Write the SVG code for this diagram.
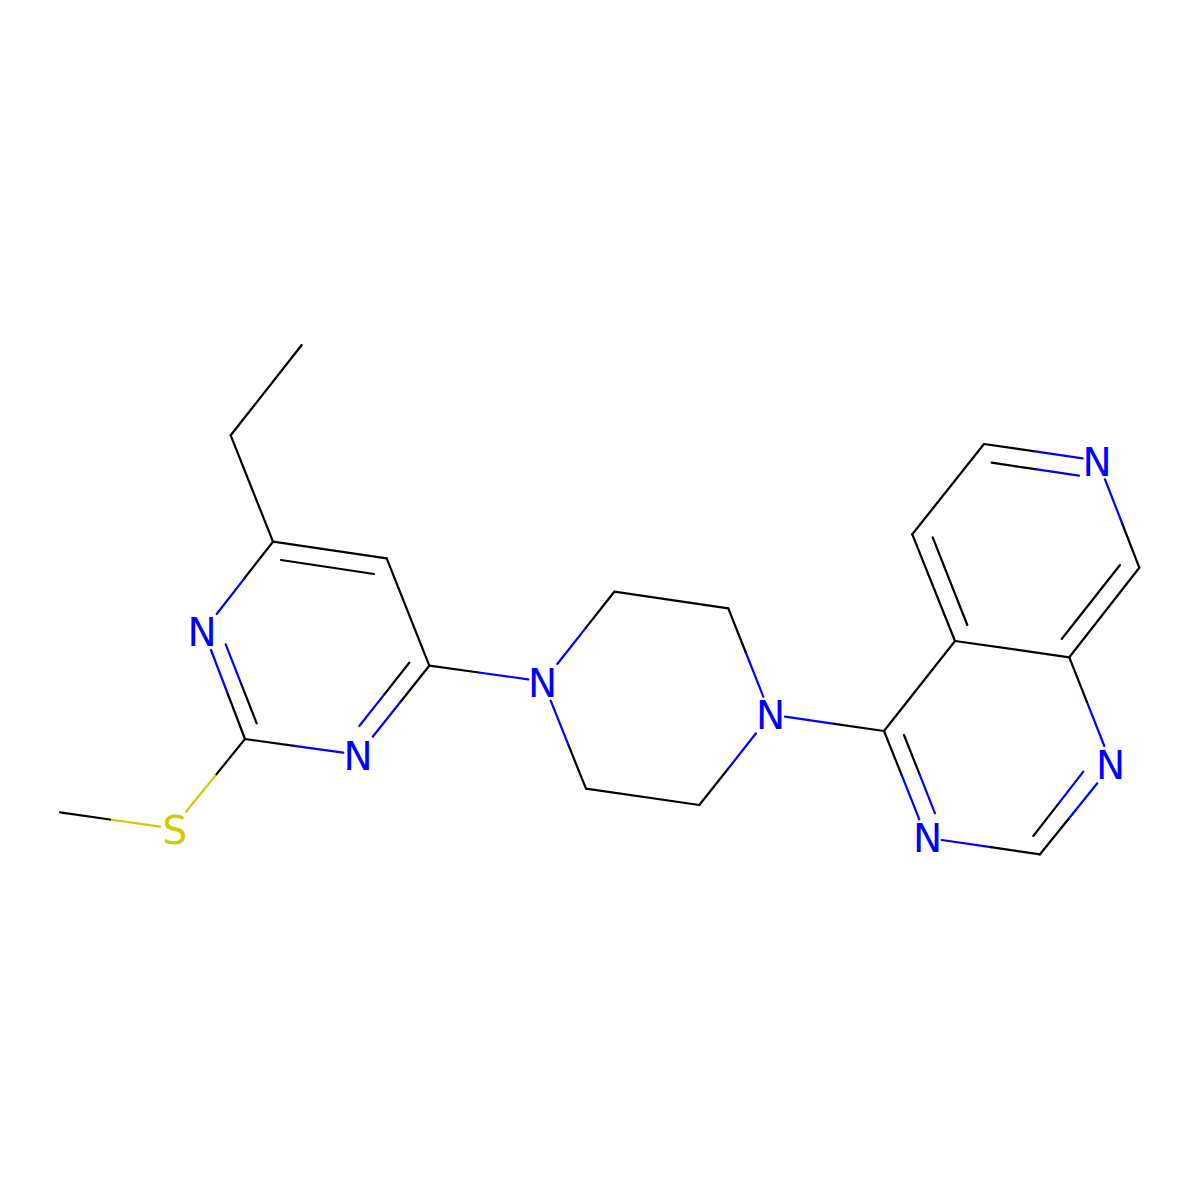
<svg xmlns="http://www.w3.org/2000/svg" width="1200" height="1200" viewBox="0 0 1200 1200">
<style>
line{stroke-width:2.2;stroke-linecap:round}
.k{stroke:#000}
.b{stroke:#0000FF}
.y{stroke:#CCCC00}
text{font-family:"DejaVu Sans",sans-serif;font-size:39px;text-anchor:middle}
.tn{fill:#0000FF}
.ts{fill:#CCCC00}
</style>
<rect width="1200" height="1200" fill="#fff"/>
<g id="connectors">
<!-- ethyl -->
<line class="k" x1="301.7" y1="345" x2="230.7" y2="435.3"/>
<line class="k" x1="230.7" y1="435.3" x2="273" y2="541.7"/>
<!-- pyrimidine -->
<line class="k" x1="273" y1="541.7" x2="386.7" y2="558.3"/>
<line class="k" x1="281" y1="560" x2="374" y2="574"/>
<line class="k" x1="386.7" y1="558.3" x2="429.3" y2="665.7"/>
<line class="k" x1="273" y1="541.7" x2="244.8" y2="577.8"/>
<line class="b" x1="244.8" y1="577.8" x2="216.7" y2="614"/>
<line class="b" x1="211" y1="650" x2="228" y2="694.5"/>
<line class="k" x1="228" y1="694.5" x2="245" y2="739"/>
<line class="b" x1="225.7" y1="644.3" x2="241.2" y2="683.8"/>
<line class="k" x1="241.2" y1="683.8" x2="256.7" y2="723.3"/>
<line class="k" x1="245" y1="739" x2="294.2" y2="745.9"/>
<line class="b" x1="294.2" y1="745.9" x2="343.3" y2="752.7"/>
<line class="b" x1="372.7" y1="736.7" x2="401" y2="701.2"/>
<line class="k" x1="401" y1="701.2" x2="429.3" y2="665.7"/>
<line class="b" x1="359.3" y1="726" x2="384.3" y2="694.4"/>
<line class="k" x1="384.3" y1="694.4" x2="409.3" y2="662.7"/>
<!-- S-methyl -->
<line class="k" x1="245" y1="739" x2="215.5" y2="775.4"/>
<line class="y" x1="215.5" y1="775.4" x2="186" y2="811.7"/>
<line class="y" x1="160" y1="826.7" x2="110" y2="819.5"/>
<line class="k" x1="110" y1="819.5" x2="60" y2="812.3"/>
<!-- C4 to piperazine -->
<line class="k" x1="429.3" y1="665.7" x2="478.8" y2="672.5"/>
<line class="b" x1="478.8" y1="672.5" x2="528.3" y2="679.3"/>
<!-- piperazine -->
<line class="b" x1="557.3" y1="664" x2="585.8" y2="627.9"/>
<line class="k" x1="585.8" y1="627.9" x2="614.3" y2="591.7"/>
<line class="k" x1="614.3" y1="591.7" x2="728.3" y2="608.3"/>
<line class="k" x1="728.3" y1="608.3" x2="745.8" y2="652.5"/>
<line class="b" x1="745.8" y1="652.5" x2="763.3" y2="696.7"/>
<line class="b" x1="756" y1="733.3" x2="727.7" y2="769.2"/>
<line class="k" x1="727.7" y1="769.2" x2="699.3" y2="805"/>
<line class="k" x1="699.3" y1="805" x2="586" y2="788.7"/>
<line class="k" x1="586" y1="788.7" x2="568.3" y2="744.7"/>
<line class="b" x1="568.3" y1="744.7" x2="550.7" y2="700.7"/>
<line class="b" x1="785" y1="716.7" x2="834.5" y2="723.9"/>
<line class="k" x1="834.5" y1="723.9" x2="884" y2="731"/>
<!-- pyridopyrimidine -->
<line class="k" x1="884" y1="731" x2="955" y2="641"/>
<line class="k" x1="884" y1="731" x2="901.7" y2="775.2"/>
<line class="b" x1="901.7" y1="775.2" x2="919.3" y2="819.3"/>
<line class="k" x1="904" y1="735" x2="919.5" y2="774.2"/>
<line class="b" x1="919.5" y1="774.2" x2="935" y2="813.3"/>
<line class="b" x1="941.7" y1="840" x2="990.8" y2="847.2"/>
<line class="k" x1="990.8" y1="847.2" x2="1040" y2="854.3"/>
<line class="k" x1="1040" y1="854.3" x2="1068.7" y2="818.8"/>
<line class="b" x1="1068.7" y1="818.8" x2="1097.3" y2="783.3"/>
<line class="k" x1="1033.3" y1="836" x2="1058.3" y2="803.9"/>
<line class="b" x1="1058.3" y1="803.9" x2="1083.3" y2="771.7"/>
<line class="b" x1="1104.3" y1="746" x2="1086.8" y2="701.7"/>
<line class="k" x1="1086.8" y1="701.7" x2="1069.3" y2="657.3"/>
<line class="k" x1="1069.3" y1="657.3" x2="955" y2="641"/>
<line class="k" x1="1069.3" y1="657.3" x2="1139.3" y2="567.7"/>
<line class="k" x1="1061.7" y1="639" x2="1120" y2="565"/>
<line class="k" x1="1139.3" y1="567.7" x2="1122.2" y2="523.5"/>
<line class="b" x1="1122.2" y1="523.5" x2="1105" y2="479.3"/>
<line class="b" x1="1082.7" y1="458.3" x2="1033.3" y2="451.2"/>
<line class="k" x1="1033.3" y1="451.2" x2="984" y2="444"/>
<line class="b" x1="1079" y1="475.7" x2="1035.3" y2="469.2"/>
<line class="k" x1="1035.3" y1="469.2" x2="991.7" y2="462.7"/>
<line class="k" x1="984" y1="444" x2="912.3" y2="534.3"/>
<line class="k" x1="912.3" y1="534.3" x2="955" y2="641"/>
<line class="k" x1="932.7" y1="537.3" x2="967.3" y2="625"/>
</g>
<g id="atom-N1"><text class="tn" x="202" y="646">N</text></g>
<g id="atom-N3"><text class="tn" x="358" y="770">N</text></g>
<g id="atom-S"><text class="ts" x="175" y="844">S</text></g>
<g id="atom-Npip1"><text class="tn" x="542.7" y="697">N</text></g>
<g id="atom-Npip4"><text class="tn" x="770.7" y="729">N</text></g>
<g id="atom-N3b"><text class="tn" x="927.7" y="852">N</text></g>
<g id="atom-N1b"><text class="tn" x="1110.7" y="779">N</text></g>
<g id="atom-N7"><text class="tn" x="1097" y="476">N</text></g>
</svg>
